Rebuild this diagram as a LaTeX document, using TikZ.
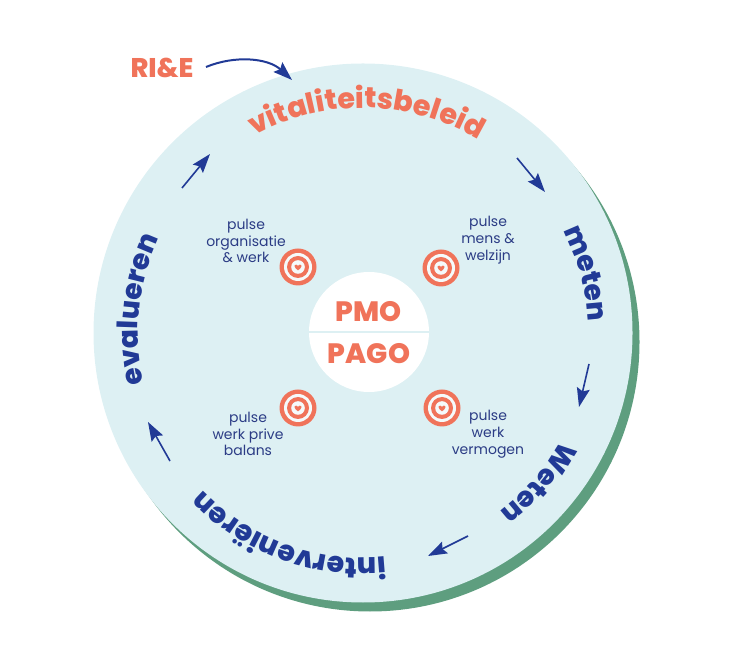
\documentclass[tikz,border=0pt]{standalone}
\usepackage{fontspec}
\setmainfont{Poppins}[BoldFont={Poppins ExtraBold}]
\usepackage{tikz}
\usetikzlibrary{arrows.meta, decorations.text}
\definecolor{salmon}{HTML}{F0735A}
\definecolor{navy}{HTML}{213A96}
\definecolor{labelblue}{HTML}{2B3C85}
\definecolor{paleblue}{HTML}{DDF0F3}
\definecolor{shadegreen}{HTML}{5E9E7F}
\tikzset{flow/.style={navy, line width=1.6, -{Stealth[length=19pt, width=13pt, inset=3pt]}}}
\tikzset{pulselabel/.style={labelblue, align=center, font=\fontsize{14}{16.8}\selectfont}}
\tikzset{hub/.style={salmon, font=\fontsize{28}{30}\selectfont\bfseries}}
\tikzset{pulsetarget/.pic={
    \fill[salmon] (0,0) circle (18.5);
    \fill[paleblue!30!white] (0,0) circle (14);
    \fill[salmon] (0,0) circle (11);
    \fill[paleblue!30!white] (0,0) circle (6.8);
    \fill[salmon] (0,-3.4) .. controls (-1.4,-1.8) and (-4,-0.6) .. (-3.6,1.2) .. controls (-3.2,3) and (-0.8,2.8) .. (0,1.2) .. controls (0.8,2.8) and (3.2,3) .. (3.6,1.2) .. controls (4,-0.6) and (1.4,-1.8) .. (0,-3.4) -- cycle;
}}
\newcommand{\ringword}[5]{\path[decorate, decoration={text along path, text align=center, text={|\fontsize{#5}{#5}\selectfont\bfseries\color{#1}|#2}}] ([shift={(centre)}]#3:225) arc (#3:#4:225);}

\begin{document}
\begin{tikzpicture}[x=1pt, y=1pt]
    \useasboundingbox (0,0) rectangle (730,669);
    \coordinate (centre) at (363,336);
    \fill[shadegreen] (370,327) circle (269.5);
    \fill[paleblue] (centre) circle (269.5);
    % curved words
    \ringword{salmon}{vitaliteitsbeleid}{124}{54}{28.6}
    \ringword{navy}{meten}{40}{-10}{28}
    \ringword{navy}{Weten}{-15.5}{-65.5}{28}
    \ringword{navy}{interveniëren}{-75}{-145}{28.4}
    \ringword{navy}{evalueren}{209}{139}{28}
    % middle
    \fill[white] (369,337) circle (60);
    \draw[paleblue, line width=2] (309,337) -- (429,337);
    \node[hub] (pmo) at (369,357) {PMO};
    \node[hub] (pago) at (369,315) {PAGO};
    \node[salmon, font=\fontsize{27}{29}\selectfont\bfseries] (rie) at (162,601) {RI\&E};
    % pulse marks
    \pic at (298,402) {pulsetarget};
    \pic at (441,401) {pulsetarget};
    \pic at (298,261) {pulsetarget};
    \pic at (442,261) {pulsetarget};
    \node[pulselabel] (organisatie) at (246,428) {pulse\\organisatie\\\& werk};
    \node[pulselabel] (mens) at (488,429) {pulse\\mens \&\\welzijn};
    \node[pulselabel] (balans) at (248,235) {pulse\\werk prive\\balans};
    \node[pulselabel] (vermogen) at (488,235) {pulse\\werk\\vermogen};
    % arrows
    \coordinate (rieA) at (206,602);
    \coordinate (rieB) at (292,589);
    \draw[flow, line width=2] (rieA) .. controls (235,614) and (268,611) .. (rieB);
    \coordinate (topA) at (182,481);
    \coordinate (topB) at (210,515);
    \draw[flow] (topA) -- (topB);
    \coordinate (rightA) at (517,511);
    \coordinate (rightB) at (545,477);
    \draw[flow] (rightA) -- (rightB);
    \coordinate (lowA) at (589,305);
    \coordinate (lowB) at (579,262);
    \draw[flow] (lowA) -- (lowB);
    \coordinate (botA) at (468,133);
    \coordinate (botB) at (428,113);
    \draw[flow] (botA) -- (botB);
    \coordinate (leftA) at (170,208);
    \coordinate (leftB) at (148,247);
    \draw[flow] (leftA) -- (leftB);
\end{tikzpicture}
\end{document}
